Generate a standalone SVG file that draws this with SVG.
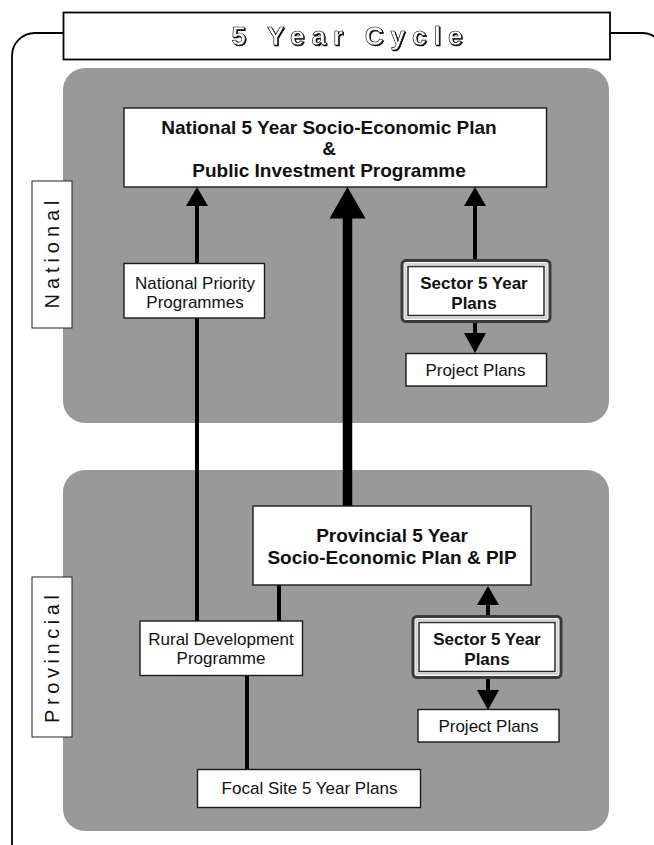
<svg xmlns="http://www.w3.org/2000/svg" width="654" height="845" viewBox="0 0 654 845">
  <style>
    .panel { fill: #999999; }
    .box { fill: #ffffff; stroke: #1a1a1a; stroke-width: 1.4; }
    .label { fill: #ffffff; stroke: #222222; stroke-width: 1; }
    .frame { fill: none; stroke: #000000; stroke-width: 1.8; }
    .t { font-family: "Liberation Sans", Arial, sans-serif; fill: #111111; text-anchor: middle; }
    .reg { font-size: 17px; }
    .bold { font-size: 19px; font-weight: bold; }
    .sb { font-size: 17px; font-weight: bold; }
    .side { font-size: 20px; }
    .line { stroke: #000000; stroke-width: 4; fill: none; }
    .thick { stroke: #000000; stroke-width: 9.5; fill: none; }
    .head { fill: #000000; }
    .outer { fill: #ffffff; stroke: #3a3a3a; stroke-width: 3; }
    .mid { fill: none; stroke: #d0d0d0; stroke-width: 2; }
    .inner { fill: #ffffff; stroke: #2a2a2a; stroke-width: 1.5; }
    .title { font-family: "Liberation Sans", Arial, sans-serif; font-size: 26px; font-weight: bold; text-anchor: middle; fill: #ffffff; stroke: #000000; stroke-width: 0.6; filter: url(#drop); }
  </style>
  <defs>
    <!-- small dark drop shadow behind the outlined title letters -->
    <filter id="drop" x="-10%" y="-30%" width="130%" height="160%">
      <feOffset in="SourceAlpha" dx="1.2" dy="1.2" result="off"/>
      <feMerge>
        <feMergeNode in="off"/>
        <feMergeNode in="SourceGraphic"/>
      </feMerge>
    </filter>
  </defs>

  <!-- outer cycle frame -->
  <rect class="frame" x="12" y="33" width="653" height="840" rx="23"/>

  <!-- level panels -->
  <rect class="panel" x="63" y="68" width="546" height="355" rx="22"/>
  <rect class="panel" x="63" y="470" width="546" height="361" rx="22"/>

  <!-- title -->
  <g id="title">
    <rect x="63.5" y="12.5" width="546.5" height="47" fill="#ffffff" stroke="#000000" stroke-width="1.8"/>
    <text class="title" x="347" y="45" textLength="231" lengthAdjust="spacing">5 Year Cycle</text>
  </g>

  <!-- connectors -->
  <g id="connectors">
    <line class="line" x1="197" y1="621" x2="197" y2="204"/>
    <polygon class="head" points="197,187 186,206 208,206"/>
    <line class="thick" x1="347.5" y1="506" x2="347.5" y2="214"/>
    <polygon class="head" points="347.5,187 329.5,218.5 365.5,218.5"/>
    <line class="line" x1="475" y1="260" x2="475" y2="204"/>
    <polygon class="head" points="475,187 464,206 486,206"/>
    <line class="line" x1="475" y1="322" x2="475" y2="335"/>
    <polygon class="head" points="475,353 464,333 486,333"/>
    <line class="line" x1="279" y1="585" x2="279" y2="621"/>
    <line class="line" x1="247" y1="676" x2="247" y2="770"/>
    <line class="line" x1="488" y1="616" x2="488" y2="602"/>
    <polygon class="head" points="488,586 477,605 499,605"/>
    <line class="line" x1="488" y1="678" x2="488" y2="692"/>
    <polygon class="head" points="488,710 477,690 499,690"/>
  </g>

  <!-- level labels -->
  <g id="label-national">
    <rect class="label" x="32" y="181" width="40" height="147"/>
    <text class="t side" transform="translate(52,254.5) rotate(-90)" x="0" y="7" textLength="108" lengthAdjust="spacing">National</text>
  </g>
  <g id="label-provincial">
    <rect class="label" x="32" y="577" width="40" height="160"/>
    <text class="t side" transform="translate(52,659) rotate(-90)" x="0" y="7" textLength="128" lengthAdjust="spacing">Provincial</text>
  </g>

  <!-- national level -->
  <g id="national-plan">
    <rect class="box" x="124" y="108" width="422.5" height="79"/>
    <text class="t bold" x="329" y="134">National 5 Year Socio-Economic Plan</text>
    <text class="t bold" x="329" y="155">&amp;</text>
    <text class="t bold" x="329" y="177">Public Investment Programme</text>
  </g>
  <g id="national-priority">
    <rect class="box" x="124" y="263.5" width="140.5" height="54.5"/>
    <text class="t reg" x="195" y="289">National Priority</text>
    <text class="t reg" x="195" y="308">Programmes</text>
  </g>
  <g id="national-sector">
    <rect class="outer" x="402" y="260.5" width="148" height="61" rx="4"/>
    <rect class="mid" x="405.5" y="264" width="141" height="54"/>
    <rect class="inner" x="408" y="266.5" width="136" height="49"/>
    <text class="t sb" x="474" y="288.5">Sector 5 Year</text>
    <text class="t sb" x="474" y="308.5">Plans</text>
  </g>
  <g id="national-projects">
    <rect class="box" x="406" y="353.5" width="140.5" height="32.5"/>
    <text class="t reg" x="475.5" y="375.5">Project Plans</text>
  </g>

  <!-- provincial level -->
  <g id="provincial-plan">
    <rect class="box" x="253" y="506" width="278" height="79"/>
    <text class="t bold" x="392" y="542">Provincial 5 Year</text>
    <text class="t bold" x="392" y="563.5">Socio-Economic Plan &amp; PIP</text>
  </g>
  <g id="rural-development">
    <rect class="box" x="140" y="621" width="162.5" height="54.5"/>
    <text class="t reg" x="221" y="645">Rural Development</text>
    <text class="t reg" x="221" y="663.5">Programme</text>
  </g>
  <g id="provincial-sector">
    <rect class="outer" x="413" y="616.5" width="148" height="61" rx="4"/>
    <rect class="mid" x="416.5" y="620" width="141" height="54"/>
    <rect class="inner" x="419" y="622.5" width="136" height="49"/>
    <text class="t sb" x="487" y="644.5">Sector 5 Year</text>
    <text class="t sb" x="487" y="664.5">Plans</text>
  </g>
  <g id="provincial-projects">
    <rect class="box" x="418" y="709.5" width="141" height="32.5"/>
    <text class="t reg" x="488.5" y="731.5">Project Plans</text>
  </g>
  <g id="focal-site">
    <rect class="box" x="197.5" y="769.5" width="223" height="38"/>
    <text class="t reg" x="309.5" y="793.5">Focal Site 5 Year Plans</text>
  </g>
</svg>
